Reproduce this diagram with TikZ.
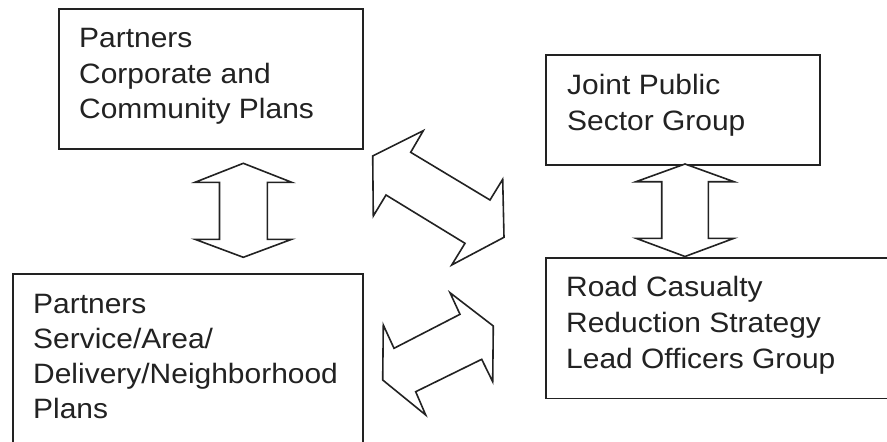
\documentclass[tikz,border=0pt]{standalone}
\usepackage{fontspec}
\setmainfont[FakeStretch=1.07]{Liberation Sans}
\definecolor{ink}{HTML}{222222}
\begin{document}
\begin{tikzpicture}[x=1pt,y=-1pt,
  boxstyle/.style={draw=ink,line width=1.6pt,rectangle,inner sep=0pt,anchor=north west},
  txt/.style={anchor=base west,inner sep=0pt,text=ink,font=\fontsize{28pt}{35.5pt}\selectfont},
  blockarrow/.style={draw=ink,line width=1.6pt,fill=white,line join=miter}]
\useasboundingbox (0,0) rectangle (887,442);
\clip (0,0) rectangle (887,442);
\fill[white] (0,0) rectangle (887,442);

% boxes
\node[boxstyle,minimum width=304pt,minimum height=140pt] (A) at (58,8) {};
\node[boxstyle,minimum width=350pt,minimum height=200pt] (B) at (12,273) {};
\node[boxstyle,minimum width=274pt,minimum height=110pt] (C) at (545,54) {};
\node[boxstyle,minimum width=360pt,minimum height=140.5pt] (D) at (545,257) {};

% texts
\node[txt] (a1) at (79,47) {Partners};
\node[txt] (a2) at (79,83) {Corporate and};
\node[txt] (a3) at (79,118) {Community Plans};

\node[txt] (b1) at (33,313) {Partners};
\node[txt] (b2) at (33,348) {Service/Area/};
\node[txt] (b3) at (33,383) {Delivery/Neighborhood};
\node[txt] (b4) at (33,418) {Plans};

\node[txt] (c1) at (567,94) {Joint Public};
\node[txt] (c2) at (567,130) {Sector Group};

\node[txt] (d1) at (566,296) {Road Casualty};
\node[txt] (d2) at (566,332) {Reduction Strategy};
\node[txt] (d3) at (566,368) {Lead Officers Group};

% vertical double arrow A <-> B
\draw[blockarrow] (243.3,163.3) -- (291.7,182.3) -- (267.3,182.3) -- (267.3,239.3)
  -- (291.7,239.3) -- (243.3,257.3) -- (195,239.3) -- (219.5,239.3) -- (219.5,182.3)
  -- (195,182.3) -- cycle;

% vertical double arrow C <-> D
\draw[blockarrow] (685,164) -- (734,181.7) -- (708.3,181.7) -- (708.3,238.3)
  -- (734,238.3) -- (685,256.5) -- (636,238.3) -- (661.7,238.3) -- (661.7,181.7)
  -- (636,181.7) -- cycle;

% diagonal double arrow A <-> D region (upper)
\draw[blockarrow] (372.7,156) -- (423.3,130.7) -- (410.7,152.3) -- (490,200)
  -- (502.7,179.3) -- (504,237.3) -- (451.7,265) -- (465,243.3) -- (386,195)
  -- (373.3,216) -- cycle;

% diagonal double arrow B <-> C region (lower)
\draw[blockarrow] (450,292.7) -- (460,314.3) -- (394,348.3) -- (383.3,325)
  -- (382.7,380) -- (425.7,415) -- (415.7,391.7) -- (481.7,359.3)
  -- (492.7,381.7) -- (493.3,326) -- cycle;
\end{tikzpicture}
\end{document}
